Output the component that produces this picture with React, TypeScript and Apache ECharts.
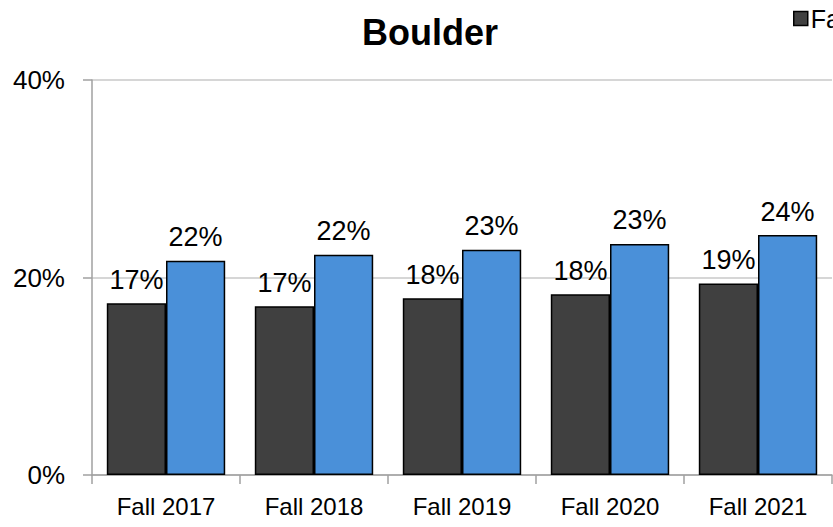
import React, { useEffect, useRef } from "react";
import * as echarts from "echarts";

const categories = ["Fall 2017", "Fall 2018", "Fall 2019", "Fall 2020", "Fall 2021"];
const seriesNames = ["Fall", "Comparison"];
const darkValues = [17.4, 17.1, 17.9, 18.3, 19.4];
const blueValues = [21.7, 22.3, 22.8, 23.4, 24.3];
const yTicks = [0, 20, 40];

export default function App() {
  const ref = useRef<HTMLDivElement>(null);
  useEffect(() => {
    if (!ref.current) return;
    const chart = echarts.init(ref.current, null, { renderer: "svg" });
    const font = "'Liberation Sans', Arial, Helvetica, sans-serif";
    const labelCfg = {
      show: true,
      position: "top",
      distance: 10,
      fontSize: 27,
      fontFamily: font,
      color: "#000",
      formatter: (p: any) => Math.round(p.value) + "%",
    };
    chart.setOption({
      animation: false,
      backgroundColor: "#fff",
      title: {
        text: "Boulder",
        left: 425,
        textAlign: "center",
        top: 9,
        textStyle: { fontSize: 36, fontWeight: "bold", fontFamily: font, color: "#000" },
      },
      legend: {
        data: [seriesNames[0]],
        left: 788,
        top: 0,
        padding: [6, 0, 0, 5],
        itemWidth: 14,
        itemHeight: 14,
        itemGap: 3,
        textStyle: { fontSize: 25, fontFamily: font, color: "#000", padding: [0, 0, 0, -2] },
        itemStyle: { borderColor: "#000", borderWidth: 1.5 },
        icon: "rect",
      },
      grid: { left: 92, right: 1, top: 80, bottom: 52, containLabel: false },
      xAxis: {
        type: "category",
        data: categories,
        axisLine: { lineStyle: { color: "#a0a0a0", width: 1.5 } },
        axisTick: { show: true, length: 9, alignWithLabel: false, lineStyle: { color: "#a0a0a0", width: 1.5 } },
        axisLabel: { fontSize: 24, fontFamily: font, color: "#000", margin: 19 },
      },
      yAxis: {
        type: "value",
        min: yTicks[0],
        max: yTicks[yTicks.length - 1],
        interval: yTicks[1] - yTicks[0],
        axisLine: { show: true, lineStyle: { color: "#a0a0a0", width: 1.5 } },
        axisTick: { show: true, length: 9, lineStyle: { color: "#a0a0a0", width: 1.5 } },
        splitLine: { show: true, lineStyle: { color: "#c8c8c8", width: 1.5 } },
        axisLabel: { fontSize: 26, fontFamily: font, color: "#000", margin: 27, formatter: "{value}%" },
      },
      series: [
        {
          name: seriesNames[0],
          type: "bar",
          data: darkValues,
          barGap: "0%",
          barCategoryGap: "20%",
          itemStyle: { color: "#404040", borderColor: "#000", borderWidth: 1.5 },
          label: labelCfg,
        },
        {
          name: seriesNames[1],
          type: "bar",
          data: blueValues,
          barGap: "0%",
          barCategoryGap: "20%",
          itemStyle: { color: "#4a90d9", borderColor: "#000", borderWidth: 1.5 },
          label: labelCfg,
        },
      ],
    });
    return () => chart.dispose();
  }, []);
  return (
    <div
      ref={ref}
      style={{ position: "fixed", left: 0, top: 0, width: 833, height: 527, background: "#fff" }}
    />
  );
}
